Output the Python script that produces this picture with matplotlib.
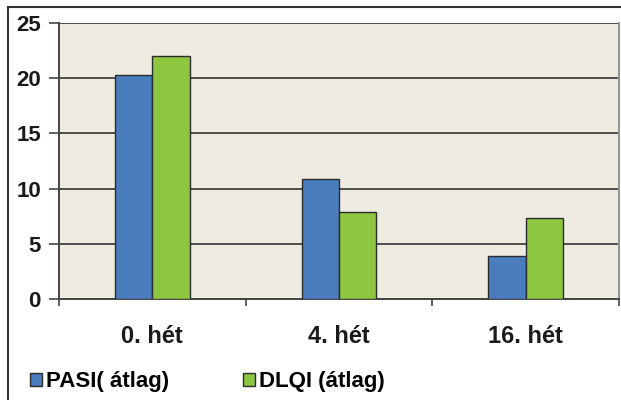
import matplotlib.pyplot as plt
from matplotlib.lines import Line2D
import numpy as np

weeks = ["0. hét", "4. hét", "16. hét"]
pasi = [20.3, 10.9, 3.9]
dlqi = [22.0, 7.9, 7.3]
series_names = ["PASI( átlag)", "DLQI (átlag)"]
y_ticks = [0, 5, 10, 15, 20, 25]

BLUE = "#4a7dbd"
GREEN = "#8dc63f"
EDGE = "#2b2b2b"

plt.rcParams.update({
    "font.family": ["Liberation Sans", "DejaVu Sans"],
    "font.weight": "bold",
})

fig = plt.figure(figsize=(6.21, 4.00), dpi=100, facecolor="white")
ax = fig.add_axes([59 / 621, 101 / 400, 560 / 621, 276 / 400])
ax.set_facecolor("#eeece1")

x = np.arange(len(weeks))
w = 0.2
b1 = ax.bar(x + 0.5 - w / 2, pasi, w, color=BLUE, edgecolor=EDGE, linewidth=1.0, zorder=3)
b2 = ax.bar(x + 0.5 + w / 2, dlqi, w, color=GREEN, edgecolor=EDGE, linewidth=1.0, zorder=3)

ax.set_xlim(0, 3)
ax.set_ylim(0, 25)
ax.set_yticks(y_ticks)
ax.set_yticklabels([str(t) for t in y_ticks], fontsize=16, fontweight="bold", color="#1a1a1a")
ax.yaxis.grid(True, color="#4d4d4d", linewidth=1.4, zorder=0)
ax.set_axisbelow(True)

# category boundaries carry the tick marks, labels sit in between
ax.set_xticks([0, 1, 2, 3])
ax.set_xticklabels([])
ax.set_xticks(x + 0.5, minor=True)
ax.set_xticklabels(weeks, minor=True, fontsize=17, fontweight="bold", color="#1a1a1a")
ax.tick_params(axis="x", which="major", direction="out", length=5, width=1.2, color="#444444")
ax.tick_params(axis="x", which="minor", length=0, pad=19)
ax.tick_params(axis="y", direction="out", length=7, width=1.2, color="#444444", pad=6)

for side in ["left", "bottom"]:
    ax.spines[side].set_color("#444444")
    ax.spines[side].set_linewidth(1.4)
ax.spines["top"].set_visible(False)
ax.spines["right"].set_color("#999999")
ax.spines["right"].set_linewidth(1.5)

leg = fig.legend(
    [b1, b2], series_names,
    loc="center left", bbox_to_anchor=(30 / 621, 18 / 400),
    ncol=2, frameon=False,
    handlelength=0.55, handleheight=0.55, handletextpad=0.15,
    columnspacing=3.35, borderpad=0, borderaxespad=0,
    prop={"weight": "bold", "size": 16},
)
for h in leg.legend_handles:
    h.set_linewidth(1.0)
    h.set_edgecolor(EDGE)

# outer frame around the chart
fig.add_artist(Line2D([8 / 621, 8 / 621], [0, 393 / 400], color="#333333", linewidth=1.5))
fig.add_artist(Line2D([8 / 621, 1], [393 / 400, 393 / 400], color="#333333", linewidth=1.5))

fig.savefig("out.png", dpi=100)
